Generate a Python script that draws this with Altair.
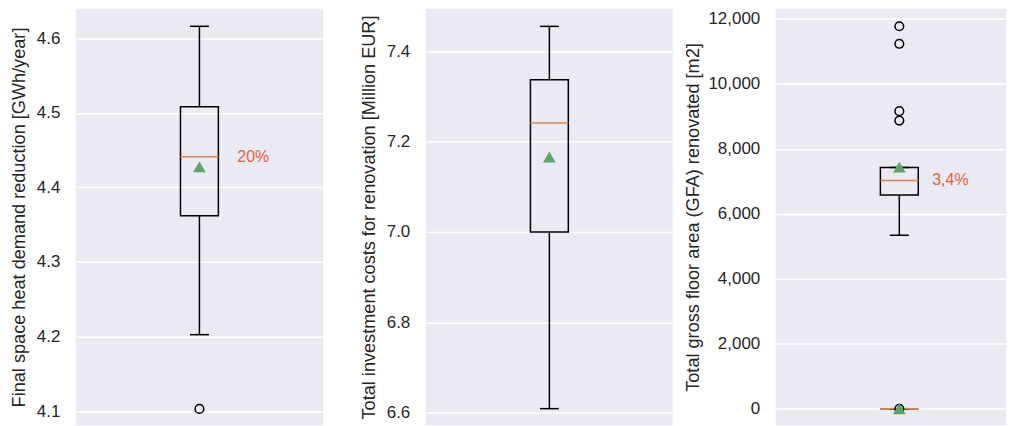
import altair as alt
import pandas as pd

# ---- data ----
panel_keys = ["heat", "cost", "gfa"]
panel_titles = [
    "Final space heat demand reduction [GWh/year]",
    "Total investment costs for renovation [Million EUR]",
    "Total gross floor area (GFA) renovated [m2]",
]
panel_ticks = [
    [4.1, 4.2, 4.3, 4.4, 4.5, 4.6],
    [6.6, 6.8, 7.0, 7.2, 7.4],
    [0, 2000, 4000, 6000, 8000, 10000, 12000],
]

box_panel = ["heat", "cost", "gfa", "gfa"]
whisker_low = [4.2025, 6.609, 5340, 0]
q1 = [4.362, 7.000, 6577, 0]
median = [4.441, 7.241, 7028, 0]
q3 = [4.508, 7.337, 7427, 0]
whisker_high = [4.616, 7.455, 7427, 0]
mean = [4.4275, 7.166, 7436, 0]

outlier_panel = ["heat", "gfa", "gfa", "gfa", "gfa", "gfa"]
outlier_value = [4.103, 11773, 11233, 9160, 8870, 0]

label_panel = ["heat", "gfa"]
label_text = ["20%", "3,4%"]
label_value = [4.441, 7028]

# ---- styling / layout ----
FONT = "Liberation Sans"
TEXT_COLOR = "#262626"
BG = "#EAEAF2"
MEDIAN_COLOR = "#DD8452"
MEAN_COLOR = "#55A868"
LABEL_COLOR = "#E8603C"
FS = 17
TFS = 18.2
H = 418

panel_cfg = {
    "heat": dict(domain=[4.0809, 4.6397], fmt=".1f", width=248, extent=40, tpad=7.8, dx=38),
    "cost": dict(domain=[6.5720, 7.4942], fmt=".1f", width=248, extent=40, tpad=7.8, dx=38),
    "gfa": dict(domain=[-513, 12316], fmt=",d", width=231, extent=67, tpad=6, dx=33),
}

boxes = pd.DataFrame(dict(panel=box_panel, lo=whisker_low, q1=q1, med=median,
                          q3=q3, hi=whisker_high, mean=mean))
outliers = pd.DataFrame(dict(panel=outlier_panel, value=outlier_value))
labels = pd.DataFrame(dict(panel=label_panel, text=label_text, value=label_value))


def build(i):
    key = panel_keys[i]
    cfg = panel_cfg[key]
    xenc = alt.X("panel:N", scale=alt.Scale(type="point", range=[0, 248]), axis=None)
    axis = alt.Axis(
        values=panel_ticks[i], format=cfg["fmt"], title=panel_titles[i],
        ticks=False, domain=False, labelPadding=16, labelFontSize=FS,
        labelColor=TEXT_COLOR, labelFont=FONT, titleFont=FONT, titleFontSize=TFS,
        titleFontWeight="normal", titleColor=TEXT_COLOR, titlePadding=cfg["tpad"],
        minExtent=cfg["extent"], maxExtent=cfg["extent"], gridColor="white",
        gridWidth=1.5, gridOpacity=1,
    )
    ysc = alt.Scale(domain=cfg["domain"], nice=False, zero=False)

    def Y(field):
        return alt.Y(f"{field}:Q", scale=ysc, axis=axis, title=panel_titles[i])

    b = alt.Chart(boxes).transform_filter(alt.datum.panel == key)
    o = alt.Chart(outliers).transform_filter(alt.datum.panel == key)
    lab = alt.Chart(labels).transform_filter(alt.datum.panel == key)

    layers = [
        b.mark_rule(color="black", strokeWidth=1.5).encode(x=xenc, y=Y("lo"), y2="q1:Q"),
        b.mark_rule(color="black", strokeWidth=1.5).encode(x=xenc, y=Y("q3"), y2="hi:Q"),
        b.mark_bar(size=38, fill="transparent", stroke="black", strokeWidth=1.5).encode(
            x=xenc, y=Y("q1"), y2="q3:Q"),
        b.mark_tick(size=19, thickness=1.5, color="black", opacity=1).encode(x=xenc, y=Y("lo")),
        b.mark_tick(size=19, thickness=1.5, color="black", opacity=1).encode(x=xenc, y=Y("hi")),
        b.mark_tick(size=38, thickness=1.5, color=MEDIAN_COLOR, opacity=1).encode(x=xenc, y=Y("med")),
        o.mark_point(shape="circle", filled=False, size=75, color="black",
                     strokeWidth=1.5, opacity=1).encode(x=xenc, y=Y("value")),
        b.mark_point(shape="triangle-up", filled=True, size=160, color=MEAN_COLOR,
                     opacity=1).encode(x=xenc, y=Y("mean")),
    ]
    if key in label_panel:
        layers.append(
            lab.mark_text(align="left", baseline="middle", dx=cfg["dx"], fontSize=FS - 1,
                          font=FONT, color=LABEL_COLOR).encode(
                x=xenc, y=Y("value"), text="text:N"))
    return alt.layer(*layers).properties(width=cfg["width"], height=H)


c1, c2, c3 = build(0), build(1), build(2)
chart = (
    alt.hconcat(alt.hconcat(c1, c2, spacing=36), c3, spacing=11)
    .properties(padding={"left": 1, "top": 0, "right": 0, "bottom": 0})
    .configure_view(stroke=None, fill=BG)
)

chart.save("out.html", embed_options={"renderer": "svg", "actions": False})
